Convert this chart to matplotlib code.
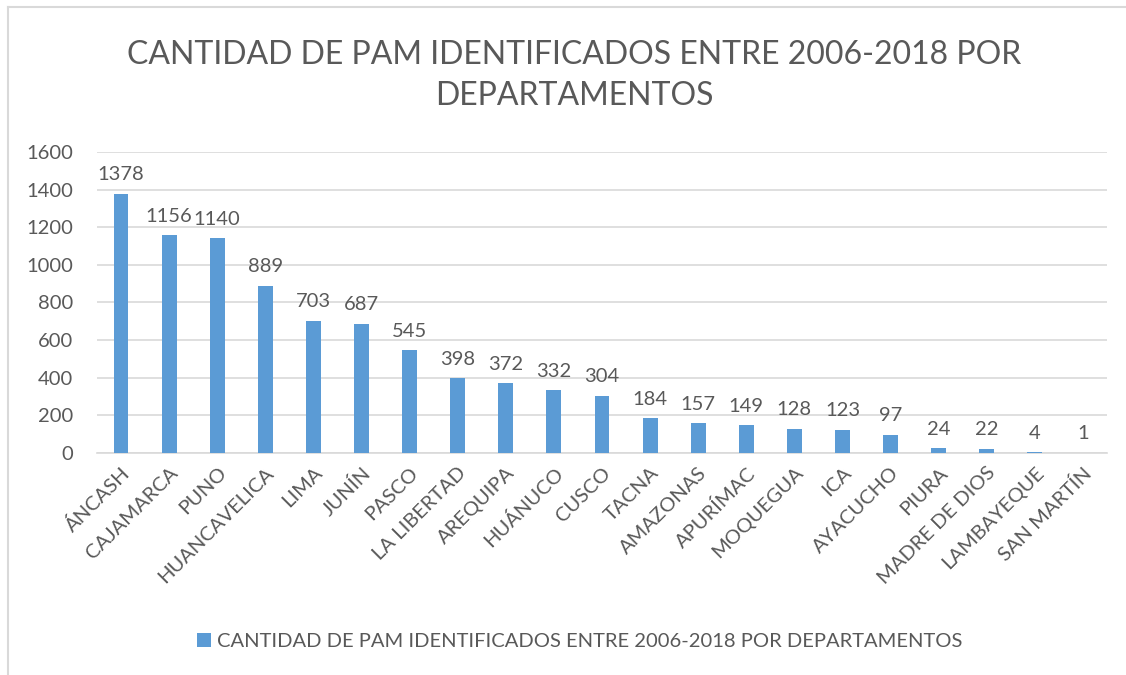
import matplotlib.pyplot as plt
from matplotlib.lines import Line2D
import numpy as np

plt.rcParams['font.family'] = ['Lato', 'DejaVu Sans']

departamentos = ['ÁNCASH', 'CAJAMARCA', 'PUNO', 'HUANCAVELICA', 'LIMA', 'JUNÍN',
                 'PASCO', 'LA LIBERTAD', 'AREQUIPA', 'HUÁNUCO', 'CUSCO', 'TACNA',
                 'AMAZONAS', 'APURÍMAC', 'MOQUEGUA', 'ICA', 'AYACUCHO', 'PIURA',
                 'MADRE DE DIOS', 'LAMBAYEQUE', 'SAN MARTÍN']
cantidad = [1378, 1156, 1140, 889, 703, 687, 545, 398, 372, 332, 304, 184,
            157, 149, 128, 123, 97, 24, 22, 4, 1]

titulo = 'CANTIDAD DE PAM IDENTIFICADOS ENTRE 2006-2018 POR\nDEPARTAMENTOS'
serie = 'CANTIDAD DE PAM IDENTIFICADOS ENTRE 2006-2018 POR DEPARTAMENTOS'

azul = '#5B9BD5'
gris = '#595959'

fig = plt.figure(figsize=(11.26, 6.75), dpi=100)
ax = fig.add_axes([0.0861, 0.329, 0.897, 0.446])

x = np.arange(len(departamentos))
barras = ax.bar(x, cantidad, width=0.31, color=azul, label=serie, zorder=3)

# etiquetas de datos
for xi, v in zip(x, cantidad):
    ax.text(xi, v + 55, str(v), ha='center', va='bottom', fontsize=14.5, color=gris)

ax.set_xlim(-0.5, len(departamentos) - 0.5)
ax.set_ylim(0, 1600)
ax.set_yticks(range(0, 1601, 200))
ax.grid(axis='y', color='#D9D9D9', lw=1.2, zorder=0)
for s in ['top', 'right', 'left']:
    ax.spines[s].set_visible(False)
ax.spines['bottom'].set_color('#D9D9D9')
ax.spines['bottom'].set_linewidth(1.2)
ax.tick_params(length=0, labelsize=14.5, colors=gris, pad=8)
ax.tick_params(axis='y', pad=17)
ax.set_xticks(x)
ax.set_xticklabels(departamentos, rotation=45, ha='right', rotation_mode='anchor')

fig.text(0.51, 0.888, titulo, ha='center', va='center', fontsize=23,
         color=gris, linespacing=1.48)

fig.legend(handles=[barras], loc='center', bbox_to_anchor=(0.515, 0.05),
           frameon=False, fontsize=14.5, labelcolor=gris, handlelength=0.7,
           handleheight=0.7, handletextpad=0.3)

# borde del gráfico (solo arriba e izquierda visibles)
fig.add_artist(Line2D([0.007, 1.0], [0.9896, 0.9896], transform=fig.transFigure,
                      color='#D9D9D9', lw=1.5))
fig.add_artist(Line2D([0.0075, 0.0075], [0.0, 0.9896], transform=fig.transFigure,
                      color='#D9D9D9', lw=1.5))

fig.savefig('out.png', dpi=100)
